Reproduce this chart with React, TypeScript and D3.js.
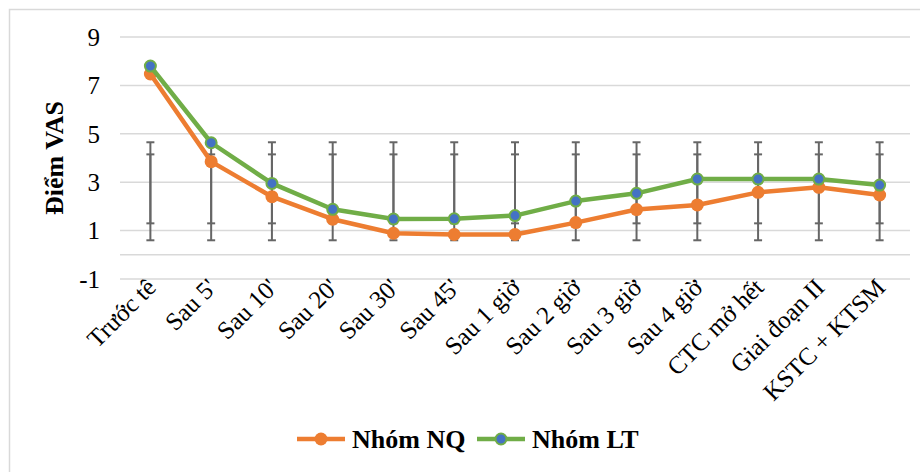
import React, { useEffect, useRef } from "react";
import { select, scaleBand, scaleLinear, line } from "d3";

const categories = [
  "Trước tê", "Sau 5'", "Sau 10'", "Sau 20'", "Sau 30'", "Sau 45'", "Sau 1 giờ",
  "Sau 2 giờ", "Sau 3 giờ", "Sau 4 giờ", "CTC mở hết", "Giai đoạn II", "KSTC + KTSM",
];
const nqValues = [7.47, 3.85, 2.4, 1.47, 0.89, 0.84, 0.84, 1.33, 1.87, 2.06, 2.58, 2.79, 2.47];
const ltValues = [7.8, 4.63, 2.95, 1.88, 1.48, 1.49, 1.62, 2.22, 2.54, 3.13, 3.13, 3.13, 2.88];
// error bars (same range at every time point in the source)
const outerLow = [0.6, 0.6, 0.6, 0.6, 0.6, 0.6, 0.6, 0.6, 0.6, 0.6, 0.6, 0.6, 0.6];
const outerHigh = [4.65, 4.65, 4.65, 4.65, 4.65, 4.65, 4.65, 4.65, 4.65, 4.65, 4.65, 4.65, 4.65];
const innerLow = [1.3, 1.3, 1.3, 1.3, 1.3, 1.3, 1.3, 1.3, 1.3, 1.3, 1.3, 1.3, 1.3];
const innerHigh = [4.15, 4.15, 4.15, 4.15, 4.15, 4.15, 4.15, 4.15, 4.15, 4.15, 4.15, 4.15, 4.15];
const yTicks = [-1, 1, 3, 5, 7, 9];
const seriesNames = ["Nhóm NQ", "Nhóm LT"];

const ORANGE = "#ED7D31";
const GREEN = "#70AD47";
const BLUE = "#4472C4";
const GRID = "#d9d9d9";
const SERIF = "Liberation Serif, Tinos, DejaVu Serif, serif";

const App = () => {
  const svgRef = useRef<SVGSVGElement>(null);

  useEffect(() => {
    const svg = select(svgRef.current);
    svg.selectAll("*").remove();

    // scales
    const xScale = scaleBand().domain(categories).range([120, 910]);
    const yScale = scaleLinear().domain([-1, 9]).range([279, 37]);
    const cx = (c: string) => (xScale(c) as number) + xScale.bandwidth() / 2;

    // chart border
    svg.append("rect")
      .attr("x", 9.5).attr("y", 9.5).attr("width", 930).attr("height", 480)
      .attr("fill", "none").attr("stroke", GRID).attr("stroke-width", 1.5);

    // gridlines + zero axis line
    svg.selectAll(".grid")
      .data([...yTicks, 0])
      .join("line")
      .attr("class", "grid")
      .attr("x1", 120).attr("x2", 910)
      .attr("y1", d => yScale(d)).attr("y2", d => yScale(d))
      .attr("stroke", GRID).attr("stroke-width", 1.5);

    // y tick labels
    svg.selectAll(".ytick")
      .data(yTicks)
      .join("text")
      .attr("class", "ytick")
      .attr("x", 100).attr("y", d => yScale(d))
      .attr("dy", "0.35em")
      .attr("text-anchor", "end")
      .style("font-family", SERIF).style("font-size", "25px").attr("fill", "#000")
      .text(d => d);

    // y axis title
    svg.append("text")
      .attr("transform", `translate(63, ${yScale(4)}) rotate(-90)`)
      .attr("text-anchor", "middle")
      .style("font-family", SERIF).style("font-size", "26px").style("font-weight", "bold")
      .text("Điểm VAS");

    // x labels
    svg.selectAll(".xtick")
      .data(categories)
      .join("text")
      .attr("class", "xtick")
      .attr("transform", d => `translate(${cx(d) + 7}, 289) rotate(-45)`)
      .attr("text-anchor", "end")
      .style("font-family", SERIF).style("font-size", "25px").attr("fill", "#000")
      .text(d => d);

    // error bars
    const drawErr = (lo: number[], hi: number[], cls: string) => {
      const g = svg.append("g").attr("class", cls)
        .attr("stroke", "#666").attr("stroke-width", 2);
      categories.forEach((c, i) => {
        const x = cx(c);
        g.append("line").attr("x1", x).attr("x2", x)
          .attr("y1", yScale(lo[i])).attr("y2", yScale(hi[i]));
        [lo[i], hi[i]].forEach(v => {
          g.append("line").attr("x1", x - 4).attr("x2", x + 4)
            .attr("y1", yScale(v)).attr("y2", yScale(v));
        });
      });
    };
    drawErr(outerLow, outerHigh, "err-outer");
    drawErr(innerLow, innerHigh, "err-inner");

    // lines
    const lineGen = line<number>()
      .x((d, i) => cx(categories[i]))
      .y(d => yScale(d));

    svg.append("path").datum(nqValues)
      .attr("fill", "none").attr("stroke", ORANGE).attr("stroke-width", 4.5)
      .attr("stroke-linejoin", "round").attr("d", lineGen);
    svg.selectAll(".nq-dot").data(nqValues).join("circle")
      .attr("class", "nq-dot")
      .attr("cx", (d, i) => cx(categories[i])).attr("cy", d => yScale(d))
      .attr("r", 6.5).attr("fill", ORANGE);

    svg.append("path").datum(ltValues)
      .attr("fill", "none").attr("stroke", GREEN).attr("stroke-width", 4.5)
      .attr("stroke-linejoin", "round").attr("d", lineGen);
    svg.selectAll(".lt-dot").data(ltValues).join("circle")
      .attr("class", "lt-dot")
      .attr("cx", (d, i) => cx(categories[i])).attr("cy", d => yScale(d))
      .attr("r", 5.5).attr("fill", BLUE).attr("stroke", GREEN).attr("stroke-width", 2);

    // legend
    const legendItems = [
      { name: seriesNames[0], color: ORANGE, fill: ORANGE, x: 297 },
      { name: seriesNames[1], color: GREEN, fill: BLUE, x: 477 },
    ];
    const lg = svg.append("g").attr("class", "legend");
    legendItems.forEach(item => {
      const y = 439;
      lg.append("line")
        .attr("x1", item.x).attr("x2", item.x + 48)
        .attr("y1", y).attr("y2", y)
        .attr("stroke", item.color).attr("stroke-width", 4.5);
      lg.append("circle")
        .attr("cx", item.x + 24).attr("cy", y).attr("r", item.fill === BLUE ? 5.5 : 6.5)
        .attr("fill", item.fill)
        .attr("stroke", item.color).attr("stroke-width", item.fill === BLUE ? 2 : 0);
      lg.append("text")
        .attr("x", item.x + 55).attr("y", y).attr("dy", "0.35em")
        .style("font-family", SERIF).style("font-size", "26px").style("font-weight", "bold")
        .text(item.name);
    });
  }, []);

  return (
    <svg
      ref={svgRef}
      width={920}
      height={472}
      style={{ position: "absolute", left: 0, top: 0, background: "#fff" }}
    />
  );
};

export default App;
